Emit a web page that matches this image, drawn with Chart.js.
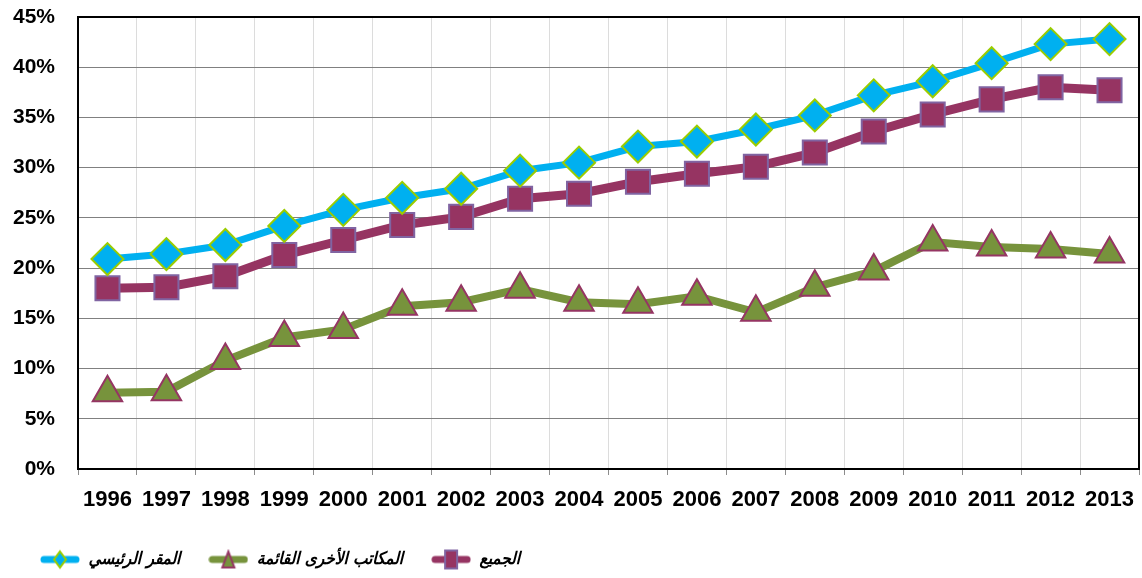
<!DOCTYPE html>
<html>
<head>
<meta charset="utf-8">
<script src="https://cdn.jsdelivr.net/npm/chart.js@4/dist/chart.umd.min.js"></script>
<style>
    html, body { margin: 0; padding: 0; background: #ffffff; }
    #wrap { width: 1142px; height: 578px; }
</style>
</head>
<body>
<div id="wrap"><canvas id="sharesChart" width="1142" height="578"></canvas></div>
<script>
// --- data ---
const years = ['1996', '1997', '1998', '1999', '2000', '2001', '2002', '2003', '2004',
               '2005', '2006', '2007', '2008', '2009', '2010', '2011', '2012', '2013'];
const hqValues = [20.9, 21.4, 22.3, 24.2, 25.8, 27.0, 27.9, 29.7, 30.5,
                  32.1, 32.6, 33.8, 35.2, 37.2, 38.6, 40.4, 42.3, 42.8];
const otherOfficesValues = [7.6, 7.7, 10.8, 13.1, 13.9, 16.2, 16.6, 17.9, 16.6,
                            16.4, 17.2, 15.6, 18.1, 19.7, 22.6, 22.1, 21.9, 21.4];
const allValues = [18.0, 18.1, 19.2, 21.3, 22.8, 24.3, 25.1, 26.9, 27.4,
                   28.6, 29.4, 30.1, 31.5, 33.6, 35.3, 36.8, 38.0, 37.7];
const seriesNames = ['المقر الرئيسي', 'المكاتب الأخرى القائمة', 'الجميع'];
const yMin = 0;
const yMax = 45;
const yStep = 5;

// --- colours ---
const BLUE = '#00b0f0';
const BLUE_EDGE = '#9bcc00';
const GREEN = '#77933c';
const GREEN_EDGE = '#953563';
const PURPLE = '#963462';
const PURPLE_EDGE = '#8064a2';

// --- legend icons (line + marker) ---
function makeIcon(lineColor, drawMarker) {
    const c = document.createElement('canvas');
    c.width = 40;
    c.height = 22;
    const g = c.getContext('2d');
    g.strokeStyle = lineColor;
    g.lineWidth = 7;
    g.lineCap = 'round';
    g.beginPath();
    g.moveTo(4, 11);
    g.lineTo(36, 11);
    g.stroke();
    drawMarker(g);
    return c;
}

const hqIcon = makeIcon(BLUE, g => {
    g.beginPath();
    g.moveTo(20, 3); g.lineTo(26, 11); g.lineTo(20, 19); g.lineTo(14, 11);
    g.closePath();
    g.fillStyle = BLUE; g.fill();
    g.strokeStyle = BLUE_EDGE; g.lineWidth = 2; g.stroke();
});
const otherIcon = makeIcon(GREEN, g => {
    g.beginPath();
    g.moveTo(20, 3); g.lineTo(26, 19); g.lineTo(14, 19);
    g.closePath();
    g.fillStyle = GREEN; g.fill();
    g.strokeStyle = GREEN_EDGE; g.lineWidth = 2; g.stroke();
});
const allIcon = makeIcon(PURPLE, g => {
    g.fillStyle = PURPLE;
    g.fillRect(14, 2, 12, 18);
    g.strokeStyle = PURPLE_EDGE; g.lineWidth = 2;
    g.strokeRect(14, 2, 12, 18);
});
const legendIcons = [hqIcon, otherIcon, allIcon];

// --- frame round the plot area ---
const plotFrame = {
    id: 'plotFrame',
    afterDraw(chart) {
        const { ctx, chartArea } = chart;
        ctx.save();
        ctx.strokeStyle = '#000000';
        ctx.lineWidth = 2;
        ctx.strokeRect(chartArea.left, chartArea.top,
                       chartArea.right - chartArea.left, chartArea.bottom - chartArea.top);
        ctx.restore();
    }
};

const ctx = document.getElementById('sharesChart').getContext('2d');

new Chart(ctx, {
    type: 'line',
    data: {
        labels: years,
        datasets: [
            {
                label: seriesNames[0],
                data: hqValues,
                borderColor: BLUE,
                borderWidth: 7,
                pointStyle: 'rectRot',
                pointRadius: 16,
                pointBackgroundColor: BLUE,
                pointBorderColor: BLUE_EDGE,
                pointBorderWidth: 2,
                tension: 0
            },
            {
                label: seriesNames[1],
                data: otherOfficesValues,
                borderColor: GREEN,
                borderWidth: 8,
                pointStyle: 'triangle',
                pointRadius: 17,
                pointBackgroundColor: GREEN,
                pointBorderColor: GREEN_EDGE,
                pointBorderWidth: 2,
                tension: 0
            },
            {
                label: seriesNames[2],
                data: allValues,
                borderColor: PURPLE,
                borderWidth: 9,
                pointStyle: 'rect',
                pointRadius: 17,
                pointBackgroundColor: PURPLE,
                pointBorderColor: PURPLE_EDGE,
                pointBorderWidth: 2,
                tension: 0
            }
        ]
    },
    options: {
        responsive: false,
        animation: false,
        events: [],
        layout: { autoPadding: false, padding: { left: 12, right: 3, top: 17, bottom: 0 } },
        plugins: {
            tooltip: { enabled: false },
            legend: {
                position: 'bottom',
                align: 'start',
                labels: {
                    usePointStyle: true,
                    pointStyleWidth: 40,
                    padding: 28,
                    color: '#000000',
                    font: { family: "'DejaVu Sans Condensed', 'DejaVu Sans'", size: 17, weight: 'bold', style: 'italic' },
                    generateLabels: chart => {
                        const items = Chart.defaults.plugins.legend.labels.generateLabels(chart);
                        items.forEach((item, i) => { item.pointStyle = legendIcons[i]; });
                        return items;
                    }
                }
            }
        },
        scales: {
            x: {
                offset: true,
                afterFit: scale => {
                    scale.height = 54;
                    scale.paddingLeft = 0;
                    scale.paddingRight = 0;
                },
                grid: {
                    offset: true,
                    color: '#dcdcdc',
                    lineWidth: 1,
                    drawTicks: true,
                    tickLength: 6,
                    tickColor: '#8c8c8c'
                },
                border: { display: true, color: '#000000', width: 2 },
                ticks: {
                    color: '#000000',
                    padding: 12,
                    maxRotation: 0,
                    autoSkip: false,
                    font: { family: 'Liberation Sans', size: 22, weight: 'bold' }
                }
            },
            y: {
                min: yMin,
                max: yMax,
                afterFit: scale => {
                    scale.width = 66;
                    scale.paddingTop = 0;
                    scale.paddingBottom = 0;
                },
                grid: {
                    color: '#808080',
                    lineWidth: 1,
                    drawTicks: false
                },
                border: { display: true, color: '#000000', width: 2 },
                ticks: {
                    stepSize: yStep,
                    color: '#000000',
                    padding: 23,
                    font: { family: 'Liberation Sans', size: 21, weight: 'bold' },
                    callback: value => value + '%'
                }
            }
        }
    },
    plugins: [plotFrame]
});
</script>
</body>
</html>
